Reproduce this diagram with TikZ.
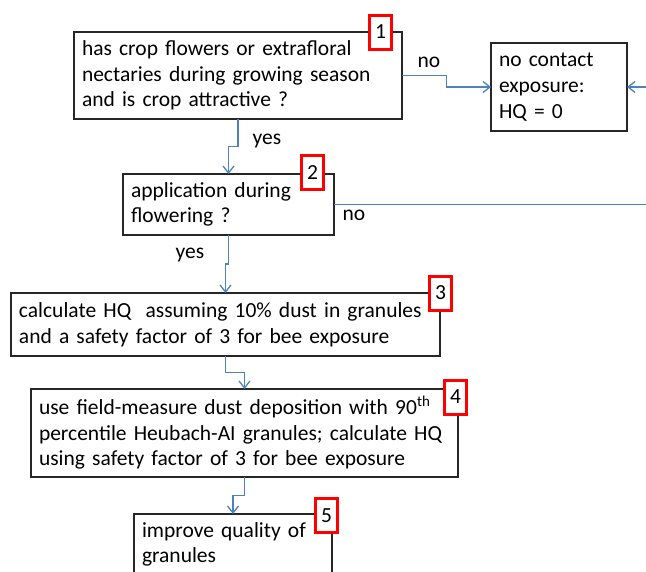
\documentclass[tikz,border=0pt]{standalone}
\usepackage{fontspec}
\setmainfont{Carlito}
\usetikzlibrary{arrows.meta}
\definecolor{flowblue}{RGB}{79,129,189}

\begin{document}
\begin{tikzpicture}[x=1pt, y=-1pt,
  box/.style={draw=black!85, line width=1.3pt, anchor=north west, align=left,
    inner xsep=8pt, inner ysep=0pt, outer sep=0pt,
    font=\fontsize{21.5}{25.7}\selectfont},
  badge/.style={draw=red, line width=3pt, fill=white, minimum width=22pt,
    minimum height=34pt, inner sep=0pt, font=\fontsize{21.5}{25.7}\selectfont},
  flow/.style={draw=flowblue, line width=1.3pt,
    -{Straight Barb[length=7pt,width=11pt]}},
  lbl/.style={anchor=base, font=\fontsize{21.5}{25.7}\selectfont}]

  \clip (0,0) rectangle (646,571);
  \coordinate (edge) at (646,0);

  % ----------------------------------------------------------------
  % boxes
  % ----------------------------------------------------------------
  \node[box, text width=312pt, minimum height=87pt] (q1) at (74,32)
    {has crop flowers or extrafloral\\nectaries during growing season\\and is crop attractive ?};
  \node[box, text width=120pt, minimum height=88pt] (nc) at (491,43)
    {no contact\\exposure:\\HQ = 0};
  \node[box, text width=195pt, minimum height=61pt] (q2) at (123,174)
    {application during\\flowering ?};
  \node[box, text width=413pt, minimum height=63pt] (c3) at (11,293)
    {calculate HQ~ assuming 10\% dust in granules\\and a safety factor of 3 for bee exposure};
  \node[box, text width=411pt, minimum height=88pt] (c4) at (31,389)
    {use field-measure dust deposition with 90\textsuperscript{th}\\percentile Heubach-AI granules; calculate HQ\\using safety factor of 3 for bee exposure};
  \node[box, text width=182pt, minimum height=61pt] (c5) at (134,514)
    {improve quality of\\granules};

  % numbered markers
  \foreach \n/\x/\y in {1/380.5/32, 2/312.5/172.5, 3/440.5/293,
                        4/455.5/397, 5/326.5/515.5} {
    \node[badge] (b\n) at (\x,\y) {\n};
  }

  % ----------------------------------------------------------------
  % connectors
  % ----------------------------------------------------------------
  \draw[flow] (q1.south) -- ++(0,27.5) -| (q2.north);
  \draw[flow] (q1.east) -- ++(44.5,0) |- (nc.west);
  \draw[flow] (q2.south) -- ++(0,29) -| (c3.north);
  \draw[flow] (c3.south) -- ++(0,16.5) -| (c4.north);
  \draw[flow] (c4.south) -- ++(0,18.5) -| (c5.north);
  \draw[flow, -] (q2.east) -- (q2.east -| edge);
  \draw[flow] (nc.east -| edge) -- (nc.east);

  % labels
  \node[lbl] (no1) at (429,67) {no};
  \node[lbl] (yes1) at (267,144) {yes};
  \node[lbl] (no2) at (354,220) {no};
  \node[lbl] (yes2) at (190,258) {yes};

\end{tikzpicture}
\end{document}
